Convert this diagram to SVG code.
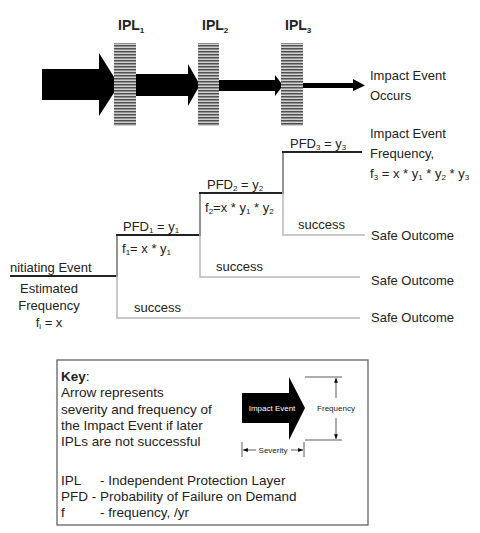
<svg xmlns="http://www.w3.org/2000/svg" width="480" height="533" viewBox="0 0 480 533">
<defs>
<pattern id="stripes" width="4" height="3" patternUnits="userSpaceOnUse">
<rect width="4" height="3" fill="#d0d0d0"/>
<rect width="4" height="1.5" fill="#505050"/>
</pattern>
<marker id="ah" viewBox="0 0 10 10" refX="10" refY="5" markerWidth="6" markerHeight="6" orient="auto-start-reverse">
<path d="M0,1 L10,5 L0,9 z" fill="#000"/>
</marker>
</defs>
<style>
text{font-family:"Liberation Sans",Arial,sans-serif;fill:#222;}
.t{font-size:13px;}
.ipl{font-size:14px;font-weight:bold;}
.sub{font-size:8px;}
.k{font-size:13.5px;}
.sm{font-size:8px;}
.blk{stroke:#222;stroke-width:2;fill:none;}
.gry{stroke:#b8b8b8;stroke-width:1.5;fill:none;}
.thin{stroke:#333;stroke-width:0.8;fill:none;}
</style>
<rect width="480" height="533" fill="#fff"/>

<g id="arrows">
<path d="M42,69 H99 V53 L119,85 L99,116 V100 H42 Z" fill="#000"/>
<path d="M136,74 H188 V64 L200,85 L188,106 V96 H136 Z" fill="#000"/>
<path d="M219,80 H275 V75 L283,85.5 L275,96 V91 H219 Z" fill="#000"/>
<path d="M303,83 H353 V79 L365,85.5 L353,91 V88 H303 Z" fill="#000"/>
</g>

<g id="ipl1">
<rect x="114" y="43" width="22" height="83" fill="url(#stripes)"/>
<text class="ipl" x="118" y="30">IPL<tspan class="sub" dy="3">1</tspan></text>
</g>
<g id="ipl2">
<rect x="198" y="43" width="21" height="83" fill="url(#stripes)"/>
<text class="ipl" x="202" y="30">IPL<tspan class="sub" dy="3">2</tspan></text>
</g>
<g id="ipl3">
<rect x="281" y="43" width="22" height="83" fill="url(#stripes)"/>
<text class="ipl" x="285" y="30">IPL<tspan class="sub" dy="3">3</tspan></text>
</g>

<g id="impact-occurs">
<text class="t" x="370" y="80">Impact Event</text>
<text class="t" x="370" y="100">Occurs</text>
</g>

<g id="connectors">
<path class="blk" d="M10,276 H117 V235 H200 V193 H283 V152 H362"/>
<path class="gry" d="M117,236 V318 H360"/>
<path class="gry" d="M200,194 V277 H360"/>
<path class="gry" d="M283,153 V235 H365"/>
</g>

<g id="initiating">
<text class="t" x="10" y="272">nitiating Event</text>
<text class="t" x="49" y="293" text-anchor="middle">Estimated</text>
<text class="t" x="49" y="310" text-anchor="middle">Frequency</text>
<text class="t" x="49" y="327" text-anchor="middle">f<tspan class="sub" dy="2">i</tspan><tspan dy="-2"> = x</tspan></text>
</g>

<g id="stage1">
<text class="t" x="123" y="231">PFD<tspan class="sub" dy="2">1</tspan><tspan dy="-2"> = y</tspan><tspan class="sub" dy="2">1</tspan></text>
<text class="t" x="122" y="253">f<tspan class="sub" dy="2">1</tspan><tspan dy="-2">= x * y</tspan><tspan class="sub" dy="2">1</tspan></text>
<text class="t" x="134" y="312">success</text>
</g>

<g id="stage2">
<text class="t" x="207" y="189">PFD<tspan class="sub" dy="2">2</tspan><tspan dy="-2"> = y</tspan><tspan class="sub" dy="2">2</tspan></text>
<text class="t" x="205" y="212">f<tspan class="sub" dy="2">2</tspan><tspan dy="-2">=x * y</tspan><tspan class="sub" dy="2">1</tspan><tspan dy="-2"> * y</tspan><tspan class="sub" dy="2">2</tspan></text>
<text class="t" x="216" y="271">success</text>
</g>

<g id="stage3">
<text class="t" x="290" y="148">PFD<tspan class="sub" dy="2">3</tspan><tspan dy="-2"> = y</tspan><tspan class="sub" dy="2">3</tspan></text>
<text class="t" x="298" y="229">success</text>
</g>

<g id="impact-frequency">
<text class="t" x="370" y="138">Impact Event</text>
<text class="t" x="370" y="158">Frequency,</text>
<text class="t" x="370" y="178">f<tspan class="sub" dy="2">3</tspan><tspan dy="-2"> = x * y</tspan><tspan class="sub" dy="2">1</tspan><tspan dy="-2"> * y</tspan><tspan class="sub" dy="2">2</tspan><tspan dy="-2"> * y</tspan><tspan class="sub" dy="2">3</tspan></text>
</g>

<g id="safe3"><text class="t" x="371" y="240">Safe Outcome</text></g>
<g id="safe2"><text class="t" x="371" y="285">Safe Outcome</text></g>
<g id="safe1"><text class="t" x="371" y="322">Safe Outcome</text></g>

<g id="key">
<rect x="57" y="360" width="311" height="165" fill="#fff" stroke="#555" stroke-width="1.2"/>
<text class="k" x="61" y="381"><tspan font-weight="bold">Key</tspan>:</text>
<text class="k" x="61" y="397">Arrow represents</text>
<text class="k" x="61" y="414">severity and frequency of</text>
<text class="k" x="61" y="430">the Impact Event if later</text>
<text class="k" x="61" y="446">IPLs are not successful</text>
<text class="k" x="61" y="485">IPL</text>
<text class="k" x="100" y="485">- Independent Protection Layer</text>
<text class="k" x="61" y="501">PFD - Probability of Failure on Demand</text>
<text class="k" x="61" y="517">f</text>
<text class="k" x="100" y="517">- frequency, /yr</text>
<path d="M242,393 H289 V377 L305,408 L289,440 V423 H242 Z" fill="#000"/>
<text class="sm" x="272" y="411" text-anchor="middle" style="fill:#fff">Impact Event</text>
<path class="thin" d="M305,377 H342 M305,440 H342"/>
<path class="thin" d="M336,398 V378" marker-end="url(#ah)"/>
<path class="thin" d="M336,418 V439" marker-end="url(#ah)"/>
<text class="sm" x="336" y="411" text-anchor="middle">Frequency</text>
<path class="thin" d="M242,442 V457 M304,442 V457"/>
<path class="thin" d="M256,450 H243" marker-end="url(#ah)"/>
<path class="thin" d="M291,450 H303" marker-end="url(#ah)"/>
<text class="sm" x="273" y="453" text-anchor="middle">Severity</text>
</g>
</svg>
